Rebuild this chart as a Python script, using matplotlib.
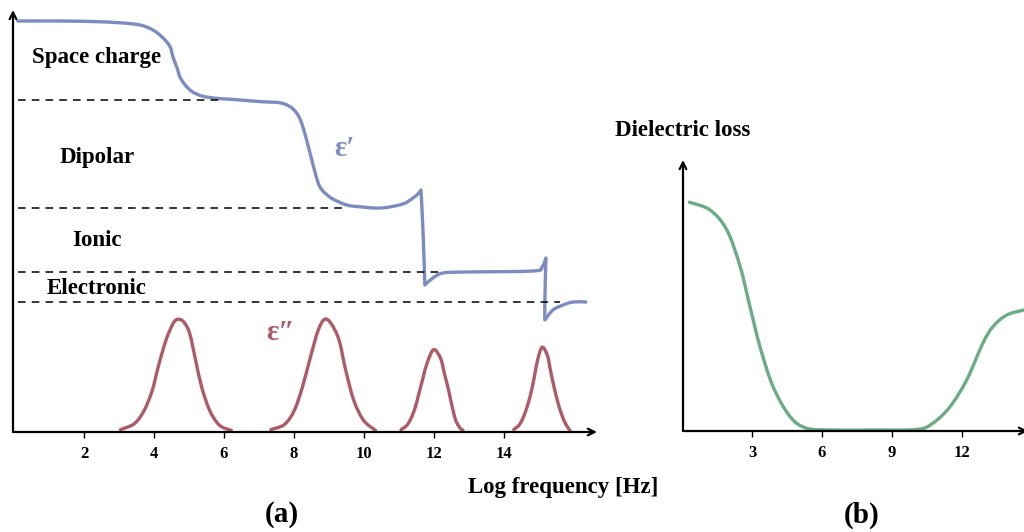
import numpy as np
import matplotlib
matplotlib.use("Agg")
import matplotlib.pyplot as plt
from matplotlib.path import Path
from matplotlib.patches import PathPatch

plt.rcParams['font.family'] = ['Liberation Serif', 'DejaVu Serif']
plt.rcParams['font.weight'] = 'bold'

# ---- data ----
# panel (a): real permittivity eps'
eps_re_x = [0.11, 1.31, 2.30, 3.03, 3.60, 3.97, 4.26, 4.46, 4.54, 4.66, 4.74, 4.89, 5.09, 5.37, 5.80, 6.17,
            7.03, 7.60, 7.89, 8.08, 8.22, 8.36, 8.51, 8.65, 8.74, 8.89, 9.12, 9.51, 9.89, 10.50,
            11.11, 11.40, 11.54, 11.63, 11.69, 11.74, 11.97, 12.26, 12.94, 14.83,
            15.09, 15.20, 15.17, 15.17, 15.40, 15.69, 15.97, 16.34]
eps_re_y = [102.75, 102.75, 102.6, 102.3, 101.75, 100.5, 98.5, 96.3, 93.8, 91.0, 88.8, 86.75, 85.1, 84.0, 83.4, 83.2,
            82.6, 82.3, 81.3, 79.7, 77.2, 73.0, 68.0, 63.4, 61.3, 59.7, 58.2, 56.75, 56.3, 56.0,
            57.0, 58.5, 59.5, 60.5, 49.75, 36.75, 38.5, 39.75, 40.0, 40.25,
            41.25, 43.5, 33.0, 28.0, 30.5, 31.75, 32.5, 32.5]
eps_re_corners = [33, 35, 41, 43]   # sharp resonance kinks

# dashed level lines: level, end x
levels = [83.0, 56.1, 40.0, 32.6]
level_ends = [5.9, 9.5, 12.26, 15.6]
level_names = ['Space charge', 'Dipolar', 'Ionic', 'Electronic']
name_y = [93.5, 68.5, 47.75, 36.0]

# imaginary permittivity eps'' peaks
peak1_x = [3.04, 3.44, 3.72, 3.95, 4.12, 4.34, 4.55, 4.70, 4.86, 5.02, 5.19, 5.36, 5.59, 5.87, 6.21]
peak1_y = [0.6, 2.1, 5.4, 10.4, 16.3, 22.9, 27.2, 28.2, 27.4, 24.6, 17.9, 11.3, 5.4, 1.7, 0.4]
peak2_x = [7.34, 7.73, 8.01, 8.24, 8.47, 8.69, 8.88, 9.07, 9.29, 9.48, 9.71, 9.99, 10.33]
peak2_y = [0.6, 1.9, 5.4, 11.2, 18.7, 25.4, 28.2, 27.0, 22.9, 15.4, 7.9, 2.9, 0.4]
peak3_x = [11.06, 11.22, 11.34, 11.46, 11.57, 11.69, 11.80, 11.99, 12.19, 12.30, 12.42, 12.59, 12.72, 12.83]
peak3_y = [0.6, 1.6, 3.3, 6.0, 9.6, 13.6, 17.1, 20.6, 18.4, 14.6, 10.4, 3.8, 1.3, 0.4]
peak4_x = [14.28, 14.44, 14.56, 14.68, 14.79, 14.88, 14.96, 15.09, 15.24, 15.32, 15.41, 15.53, 15.64, 15.77, 15.89]
peak4_y = [0.6, 1.8, 3.8, 6.8, 10.4, 14.3, 17.9, 21.2, 19.2, 15.9, 12.1, 7.8, 4.6, 1.9, 0.4]

ticks_a = [2, 4, 6, 8, 10, 12, 14]

# panel (b): dielectric loss
loss_x = [0.31, 1.20, 1.92, 2.49, 2.91, 3.34, 3.90, 4.63, 5.34, 6.47, 8.0, 10.06, 10.76, 11.49, 12.20,
          12.90, 13.33, 13.92, 14.66]
loss_y = [57.2, 55.25, 50.25, 41.1, 31.1, 21.1, 11.1, 3.6, 0.7, 0.25, 0.25, 0.4, 2.0, 6.1, 12.75,
          22.0, 26.1, 29.0, 30.25]
ticks_b = [3, 6, 9, 12]

C_RE = '#7d8cbf'
C_IM = '#ad5b66'
C_LOSS = '#6cab85'

W, H = 1024, 532
fig = plt.figure(figsize=(W / 100, H / 100), dpi=100)


def fx(px):
    return px / W


def fy(py):
    return 1 - py / H


def smooth_line(ax, xs, ys, color, corners=(), lw=2.4):
    # Catmull-Rom through the read points, drawn as bezier path
    p = np.column_stack([xs, ys]).astype(float)
    n = len(p)
    verts = [p[0]]
    codes = [Path.MOVETO]
    for i in range(n - 1):
        p0 = p[i - 1] if (i > 0 and i not in corners) else p[i]
        p3 = p[i + 2] if (i + 2 < n and (i + 1) not in corners) else p[i + 1]
        c1 = p[i] + (p[i + 1] - p0) / 6
        c2 = p[i + 1] - (p3 - p[i]) / 6
        verts += [c1, c2, p[i + 1]]
        codes += [Path.CURVE4] * 3
    ax.add_patch(PathPatch(Path(verts, codes), fill=False, edgecolor=color, lw=lw,
                           joinstyle='round', capstyle='round'))


def arrow_axes(ax):
    for s in ax.spines.values():
        s.set_visible(False)
    for tip in [(1, 0), (0, 1)]:
        ax.annotate('', xy=tip, xytext=(0, 0), xycoords='axes fraction',
                    arrowprops=dict(arrowstyle='->', lw=1.6, color='black', mutation_scale=12,
                                    shrinkA=0, shrinkB=0), annotation_clip=False)
    ax.set_yticks([])
    ax.tick_params(axis='x', length=4, width=1, pad=6, labelsize=12)
    ax.patch.set_visible(False)


# ---- panel (a) ----
ax = fig.add_axes([fx(13), fy(432), fx(597) - fx(13), fy(10) - fy(432)])
ax.set_xlim(-0.03, 16.66)
ax.set_ylim(0, 105.5)
arrow_axes(ax)
ax.set_xticks(ticks_a)
ax.set_xticklabels([str(t) for t in ticks_a], fontweight='bold')

for lv, xe in zip(levels, level_ends):
    ax.plot([0.1, xe], [lv, lv], color='black', lw=1.1, ls=(0, (5, 4)))
for name, ny in zip(level_names, name_y):
    ax.text(2.37, ny, name, ha='center', va='center', fontsize=16.5, fontweight='bold')

smooth_line(ax, eps_re_x, eps_re_y, C_RE, corners=eps_re_corners)
for px_, py_ in [(peak1_x, peak1_y), (peak2_x, peak2_y), (peak3_x, peak3_y), (peak4_x, peak4_y)]:
    smooth_line(ax, px_, py_, C_IM)

ax.text(9.45, 71, 'ε′', color=C_RE, fontsize=21, fontweight='bold', ha='center', va='center')
ax.text(7.62, 24.75, 'ε″', color=C_IM, fontsize=21, fontweight='bold', ha='center', va='center')

# ---- panel (b) ----
bx = fig.add_axes([fx(683), fy(431), fx(1028) - fx(683), fy(160) - fy(431)])
bx.set_xlim(0.04, 14.83)
bx.set_ylim(0, 67.75)
arrow_axes(bx)
bx.set_xticks(ticks_b)
bx.set_xticklabels([str(t) for t in ticks_b], fontweight='bold')
smooth_line(bx, loss_x, loss_y, C_LOSS)

fig.text(fx(683), fy(130), 'Dielectric loss', ha='center', va='center', fontsize=16.5, fontweight='bold')
fig.text(fx(563), fy(488), 'Log frequency [Hz]', ha='center', va='center', fontsize=16.5, fontweight='bold')
fig.text(fx(282), fy(515), '(a)', ha='center', va='center', fontsize=21, fontweight='bold')
fig.text(fx(862), fy(515), '(b)', ha='center', va='center', fontsize=21, fontweight='bold')

fig.savefig('out.png', dpi=100)
